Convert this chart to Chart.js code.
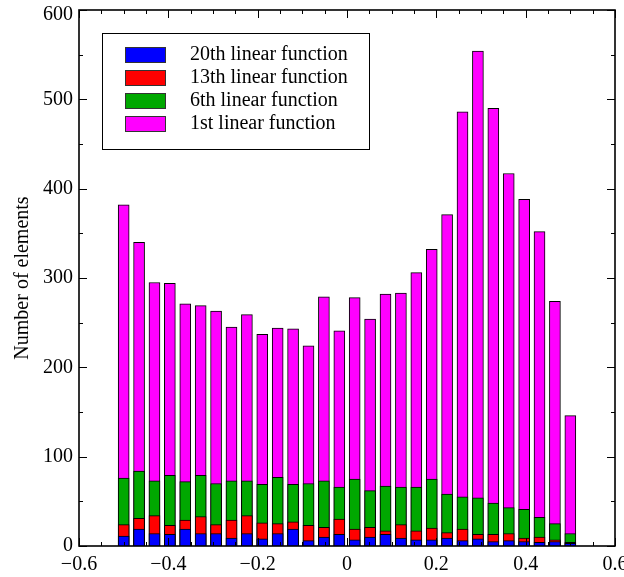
<!DOCTYPE html>
<html><head><meta charset="utf-8">
<script src="https://cdn.jsdelivr.net/npm/chart.js@4"></script>
<style>html,body{margin:0;padding:0;background:#fff}#wrap{width:624px;height:577px}</style>
</head><body><div id="wrap"><canvas id="c" width="624" height="577"></canvas></div>
<script>
// Bin centres (x values)
const binCenters = [-0.5, -0.4655, -0.4310, -0.3966, -0.3621, -0.3276, -0.2931, -0.2586, -0.2241, -0.1897,
  -0.1552, -0.1207, -0.0862, -0.0517, -0.0172, 0.0172, 0.0517, 0.0862, 0.1207, 0.1552,
  0.1897, 0.2241, 0.2586, 0.2931, 0.3276, 0.3621, 0.3966, 0.4310, 0.4655, 0.5];
// Series values (number of elements)
const series20th = [11, 19, 14, 13, 19, 14, 14, 9, 14, 8, 14, 19, 6, 10, 13, 7, 10, 13, 9, 7, 7, 9, 6, 8, 5, 6, 5, 4, 5, 3];
const series13th = [24, 31, 34, 23, 29, 33, 24, 29, 34, 26, 25, 27, 23, 21, 30, 19, 21, 17, 24, 17, 20, 15, 19, 13, 13, 14, 9, 10, 7, 4];
const series6th  = [76, 84, 73, 79, 72, 79, 70, 73, 73, 69, 77, 69, 70, 73, 66, 75, 62, 67, 66, 66, 75, 58, 55, 54, 48, 43, 41, 32, 25, 14];
const series1st  = [382, 340, 295, 294, 271, 269, 263, 245, 259, 237, 244, 243, 224, 279, 241, 278, 254, 282, 283, 306, 332, 371, 486, 554, 490, 417, 388, 352, 274, 146];
const seriesLabels = ['20th linear function', '13th linear function', '6th linear function', '1st linear function'];
const seriesColors = ['#0000ff', '#ff0000', '#00a800', '#ff00ff'];
// Axis ticks
const xMajorTicks = [-0.6, -0.4, -0.2, 0, 0.2, 0.4, 0.6];
const xMinorStep = 0.05;
const yMajorTicks = [0, 100, 200, 300, 400, 500, 600];
const yMinorStep = 50;
const yTitle = 'Number of elements';

const FONT = 'Liberation Serif';
const allSeries = [series20th, series13th, series6th, series1st];

const datasets = allSeries.map((s, i) => ({
  label: seriesLabels[i],
  data: s.map((v, k) => ({x: binCenters[k], y: v})),
  backgroundColor: seriesColors[i],
  borderColor: '#000',
  borderWidth: 1,
  barThickness: 11,
  grouped: false
}));

function fmtX(v) {
  const r = Math.round(v * 10) / 10;
  if (r === 0) return '0';
  return String(r).replace('-', '\u2212');
}

const framePlugin = {
  id: 'frame',
  beforeDraw(chart) {
    // keep the top y label inside the canvas, as in the reference
    const y = chart.scales.y;
    const items = y.getLabelItems(chart.chartArea);
    items.forEach(it => {
      if (String(it.label) === String(yMajorTicks[yMajorTicks.length - 1])) {
        it.options.translation[1] = chart.chartArea.top + 4.5;
      }
    });
  },
  afterDatasetsDraw(chart) {
    const {ctx, chartArea: a, scales: {x, y}} = chart;
    ctx.save();
    ctx.strokeStyle = '#000';
    ctx.lineWidth = 1;
    const majL = 8, minL = 4;
    const xs = [];
    for (let i = 0; i < xMajorTicks.length; i++) {
      xs.push([xMajorTicks[i], majL]);
      if (i < xMajorTicks.length - 1) {
        for (let v = xMajorTicks[i] + xMinorStep; v < xMajorTicks[i + 1] - 1e-9; v += xMinorStep) xs.push([v, minL]);
      }
    }
    ctx.beginPath();
    xs.forEach(([v, L]) => {
      const px = Math.round(x.getPixelForValue(v)) + 0.5;
      ctx.moveTo(px, a.bottom); ctx.lineTo(px, a.bottom - L);
      ctx.moveTo(px, a.top); ctx.lineTo(px, a.top + L);
    });
    const ys = [];
    for (let i = 0; i < yMajorTicks.length; i++) {
      ys.push([yMajorTicks[i], majL]);
      if (i < yMajorTicks.length - 1) {
        for (let v = yMajorTicks[i] + yMinorStep; v < yMajorTicks[i + 1] - 1e-9; v += yMinorStep) ys.push([v, minL]);
      }
    }
    ys.forEach(([v, L]) => {
      const py = Math.round(y.getPixelForValue(v)) + 0.5;
      ctx.moveTo(a.left, py); ctx.lineTo(a.left + L, py);
      ctx.moveTo(a.right, py); ctx.lineTo(a.right - L, py);
    });
    ctx.stroke();
    ctx.lineWidth = 1.6;
    ctx.strokeRect(a.left, a.top, a.right - a.left, a.bottom - a.top);
    ctx.restore();
  },
  afterDraw(chart) {
    const {ctx} = chart;
    ctx.save();
    const bx = 102.5, by = 33.5, bw = 267, bh = 116;
    ctx.fillStyle = '#fff';
    ctx.fillRect(bx, by, bw, bh);
    ctx.strokeStyle = '#000';
    ctx.lineWidth = 1;
    ctx.strokeRect(bx, by, bw, bh);
    ctx.font = '20px "' + FONT + '"';
    ctx.textBaseline = 'middle';
    ctx.textAlign = 'left';
    seriesLabels.forEach((lab, i) => {
      const sy = 47 + i * 23;
      ctx.fillStyle = seriesColors[i];
      ctx.fillRect(125, sy, 41, 16);
      ctx.strokeStyle = '#333';
      ctx.strokeRect(125.5, sy + 0.5, 40, 15);
      ctx.fillStyle = '#000';
      ctx.fillText(lab, 190, sy + 8);
    });
    ctx.restore();
  }
};

new Chart(document.getElementById('c'), {
  type: 'bar',
  data: {datasets},
  plugins: [framePlugin],
  options: {
    responsive: false,
    animation: false,
    devicePixelRatio: 1,
    layout: {padding: {top: 10, right: 9, left: 0, bottom: 0}},
    plugins: {legend: {display: false}, tooltip: {enabled: false}},
    scales: {
      x: {
        type: 'linear', min: -0.6, max: 0.6, offset: false,
        grid: {display: false, drawTicks: false, offset: false}, border: {display: false},
        afterBuildTicks(s) { s.ticks = xMajorTicks.map(v => ({value: v})); },
        ticks: {padding: 7, color: '#000', font: {family: FONT, size: 20}, callback: fmtX, maxRotation: 0, autoSkip: false},
        afterFit(s) { s.height = 31; s.paddingLeft = 0; s.paddingRight = 0; }
      },
      y: {
        min: 0, max: 600,
        grid: {display: false, drawTicks: false}, border: {display: false},
        afterBuildTicks(s) { s.ticks = yMajorTicks.map(v => ({value: v})); },
        ticks: {padding: 6, color: '#000', font: {family: FONT, size: 20}},
        title: {display: true, text: yTitle, color: '#000', font: {family: FONT, size: 20}, padding: {top: 11, bottom: 0}},
        afterFit(s) { s.width = 79; s.paddingTop = 0; s.paddingBottom = 0; }
      }
    }
  }
});
</script></body></html>
